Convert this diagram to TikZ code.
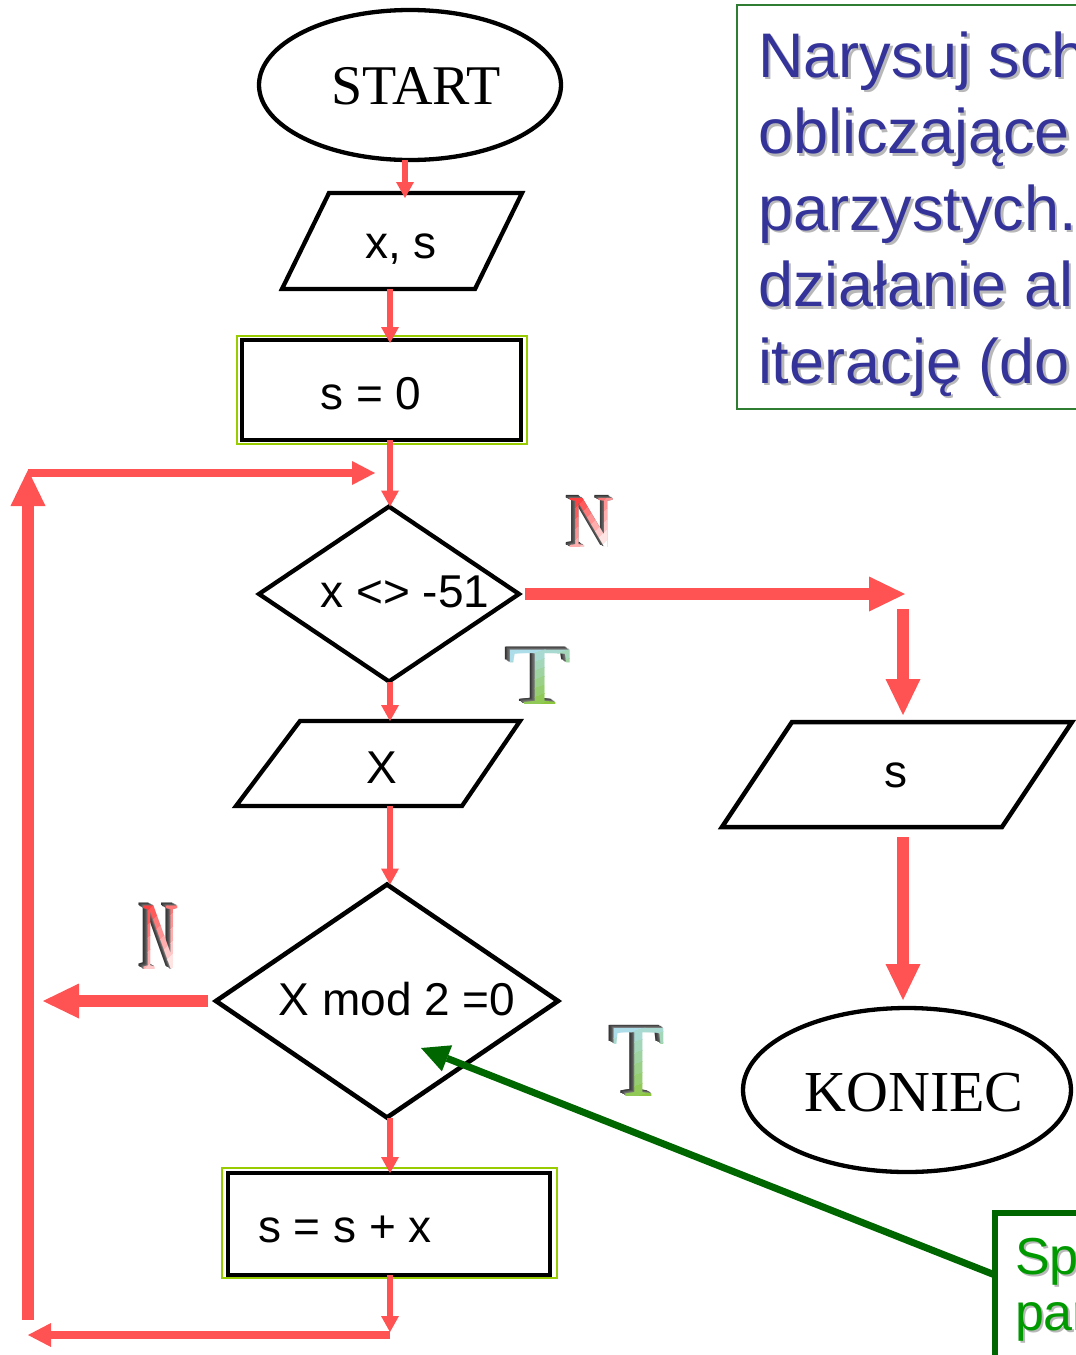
\documentclass[tikz,border=0pt]{standalone}
\usepackage{fontspec}
\setmainfont{Liberation Sans}
\newfontfamily\seriffont{Liberation Serif}
\usetikzlibrary{shapes.geometric,arrows.meta,calc}

\definecolor{flow}{HTML}{FF5252}
\definecolor{boxrim}{HTML}{99CC00}
\definecolor{taskblue}{HTML}{333399}
\definecolor{taskrim}{HTML}{2E7D32}
\definecolor{notetext}{HTML}{009900}
\definecolor{noterim}{HTML}{006600}
\definecolor{nred}{HTML}{FF4040}
\definecolor{tblue}{HTML}{AEDDEA}
\definecolor{tgreen}{HTML}{8CC63F}

\tikzset{bevelfont/.style={font=\seriffont\fontsize{#1}{#1}\selectfont}}

% Letter with a grey extrusion towards the upper left and a banded colour face.
% #1 name, #2 x, #3 y, #4 letter, #5 size, #6 xscale, #7 top colour, #8 bottom colour, #9 band angle
\newcommand\bevelletter[9]{%
  \foreach \k in {6,5,4,3,2,1}{%
    \pgfmathtruncatemacro\greyval{50+5*\k}%
    \node[bevelfont=#5, xscale=#6, text=black!\greyval] (#1s\k) at ({#2-0.8*\k},{#3-0.5*\k}) {#4};}%
  \foreach \b in {0,...,7}{%
    \pgfmathsetmacro\mixpct{100-\b*100/7}%
    \pgfmathsetmacro\bandlo{\b==0 ? -3 : -0.4+0.1*\b}%
    \pgfmathsetmacro\bandhi{\b==7 ? 3 : -0.4+0.1*(\b+1)+0.005}%
    \begin{scope}
      \clip[rotate around={#9:(#2,#3)}] ({#2-300},{#3+\bandlo*#5}) rectangle ({#2+300},{#3+\bandhi*#5});
      \node[bevelfont=#5, xscale=#6, text=#7!\mixpct!#8] (#1f\b) at (#2,#3) {#4};
    \end{scope}}%
}

\begin{document}
\begin{tikzpicture}[x=1pt,y=-1pt,
  every node/.style={inner sep=0pt, outer sep=0pt},
  outline/.style={draw=black, line width=4.3pt, line join=miter},
  terminal/.style={outline, shape=ellipse},
  termtext/.style={font=\seriffont\fontsize{#1}{#1}\selectfont},
  slot/.style={shape=rectangle},
  decision/.style={outline, shape=diamond},
  process/.style={draw=black, line width=4.5pt},
  rim/.style={draw=boxrim, line width=2.5pt},
  lbl/.style={font=\fontsize{46}{46}\selectfont},
  thinflow/.style={draw=flow, line width=5.5pt, -{Triangle[length=16pt,width=18pt,line width=0pt]}},
  midflow/.style={draw=flow, line width=7.5pt, -{Triangle[length=23pt,width=24pt,line width=0pt]}},
  thickflow/.style={draw=flow, line width=11.5pt, -{Triangle[length=36pt,width=35pt,line width=0pt]}},
  pointer/.style={draw=noterim, line width=7pt, -{Triangle[length=28pt,width=28pt,line width=0pt]}},
  taskline/.style={font=\fontsize{63}{63}\selectfont, text=taskblue, anchor=base west},
  noteline/.style={font=\fontsize{52}{52}\selectfont, text=notetext, anchor=base west},
  shadowtext/.style={text=black!28},
]
\clip (0,0) rectangle (1076,1355);
\fill[white] (0,0) rectangle (1076,1355);

% ---- task statement (top right) ----
\node[draw=taskrim, line width=2.5pt, anchor=north west, minimum width=400pt, minimum height=404pt] (task) at (737,5) {};
\foreach \line/\y [count=\i] in {Narysuj sch/77, obliczające/153.5, parzystych./230, działanie al/306.5, iterację (do/383}{
  \node[taskline, shadowtext] (taskshadow\i) at (760.5,\y+2.5) {\line};
  \node[taskline] (task\i) at (758,\y) {\line};
}

% ---- main column ----
\node[terminal, minimum width=302pt, minimum height=150pt] (start) at (410,85) {};
\node[termtext=56, anchor=base] (startt) at (416,104) {START};

\node[slot, minimum width=240pt, minimum height=96pt] (io1) at (402,241) {};
\draw[outline] ($(io1.north west)+(47,0)$) -- (io1.north east) -- ($(io1.south east)+(-47,0)$) -- (io1.south west) -- cycle;
\node[lbl, anchor=base] (io1t) at (401,258) {x, s};

\node[process, minimum width=279pt, minimum height=100pt] (init) at (381.5,390) {};
\draw[rim] ($(init.north west)+(-5,-4)$) rectangle ($(init.south east)+(6,4)$);
\node[lbl, anchor=base] (initt) at (371,409) {s = 0};

\node[decision, minimum width=260pt, minimum height=175pt] (d1) at (389,594) {};
\node[lbl, anchor=base] (d1t) at (405,607) {x <> -51};

\node[slot, minimum width=284pt, minimum height=85pt] (io2) at (378,763.5) {};
\draw[outline] ($(io2.north west)+(64,0)$) -- (io2.north east) -- ($(io2.south east)+(-58,0)$) -- (io2.south west) -- cycle;
\node[lbl, anchor=base] (io2t) at (382,783) {X};

\node[decision, line width=4.6pt, minimum width=342pt, minimum height=233pt] (d2) at (387,1001) {};
\node[lbl, anchor=base] (d2t) at (397,1015) {X mod 2 =0};

\node[process, minimum width=322pt, minimum height=102pt] (acc) at (389,1224) {};
\draw[rim] ($(acc.north west)+(-6,-5)$) rectangle ($(acc.south east)+(7,3)$);
\node[lbl, anchor=base west] (acct) at (258,1242) {s = s + x};

% ---- exit column ----
\node[slot, minimum width=350pt, minimum height=105pt] (out) at (897,774.5) {};
\draw[outline, line width=4.5pt] ($(out.north west)+(70,0)$) -- (out.north east) -- ($(out.south east)+(-70,0)$) -- (out.south west) -- cycle;
\node[lbl, anchor=base] (outt) at (896,787) {s};

\node[terminal, minimum width=328pt, minimum height=164pt] (stop) at (907,1090) {};
\node[termtext=58, anchor=base] (stopt) at (914,1111) {KONIEC};

% ---- connectors ----
\coordinate (inCol) at (405,0);
\coordinate (spine) at (390,0);
\draw[thinflow, shorten >=-5pt] (start.south -| inCol) -- (io1.north -| inCol);
\draw[thinflow, shorten >=-3pt] (io1.south -| spine) -- (init.north -| spine);
\draw[thinflow] (init.south -| spine) -- (d1.north -| spine);
\draw[thinflow] (d1.south -| spine) -- (io2.north -| spine);
\draw[thinflow] (io2.south -| spine) -- (d2.north -| spine);
\draw[thinflow] (d2.south -| spine) -- (acc.north -| spine);

\coordinate (loopSE) at (390,1335);
\coordinate (loopSW) at (28,1335);
\coordinate (loopLow) at (28,1320);
\coordinate (loopNW) at (28,470);
\coordinate (loopTop) at (28,473);
\coordinate (loopIn) at (375,473);
\draw[thinflow, shorten >=3pt] (acc.south -| spine) -- (loopSE);
\draw[midflow] (loopSE) -- (loopSW);
\draw[thickflow] (loopLow) -- (loopNW);
\draw[midflow] (loopTop) -- (loopIn);

\coordinate (exitTurn) at (905,594);
\coordinate (exitDrop) at (903,609);
\draw[thickflow, shorten <=6pt] (d1.east) -- (exitTurn);
\draw[thickflow, shorten >=7pt] (exitDrop) -- (exitDrop |- out.north);
\draw[thickflow, shorten <=10pt, shorten >=8pt] (out.south -| exitDrop) -- (stop.north -| exitDrop);

\coordinate (oddExit) at (43,1001);
\draw[thickflow, shorten <=8pt] (d2.west) -- (oddExit);

% ---- note (bottom right) ----
\node[draw=noterim, line width=6pt, anchor=north west, minimum width=200pt, minimum height=200pt] (note) at (995,1213) {};
\node[noteline, shadowtext] (noteshadow1) at (1017,1276) {Sp};
\node[noteline, shadowtext] (noteshadow2) at (1017,1332) {par};
\node[noteline] (note1) at (1015,1274) {Sp};
\node[noteline] (note2) at (1015,1330) {par};
\coordinate (pointTip) at (421,1048);
\draw[pointer] ($(note.north west)+(0,62)$) -- (pointTip);

% ---- branch letters ----
\bevelletter{nTop}{592}{523}{N}{75}{0.85}{nred}{white}{45}
\bevelletter{tTop}{540}{677}{T}{83}{1.25}{tblue}{tgreen}{20}
\bevelletter{nLeft}{161}{938}{N}{97}{0.52}{nred}{white}{45}
\bevelletter{tLow}{639}{1062}{T}{104}{0.83}{tblue}{tgreen}{20}
\end{tikzpicture}
\end{document}
